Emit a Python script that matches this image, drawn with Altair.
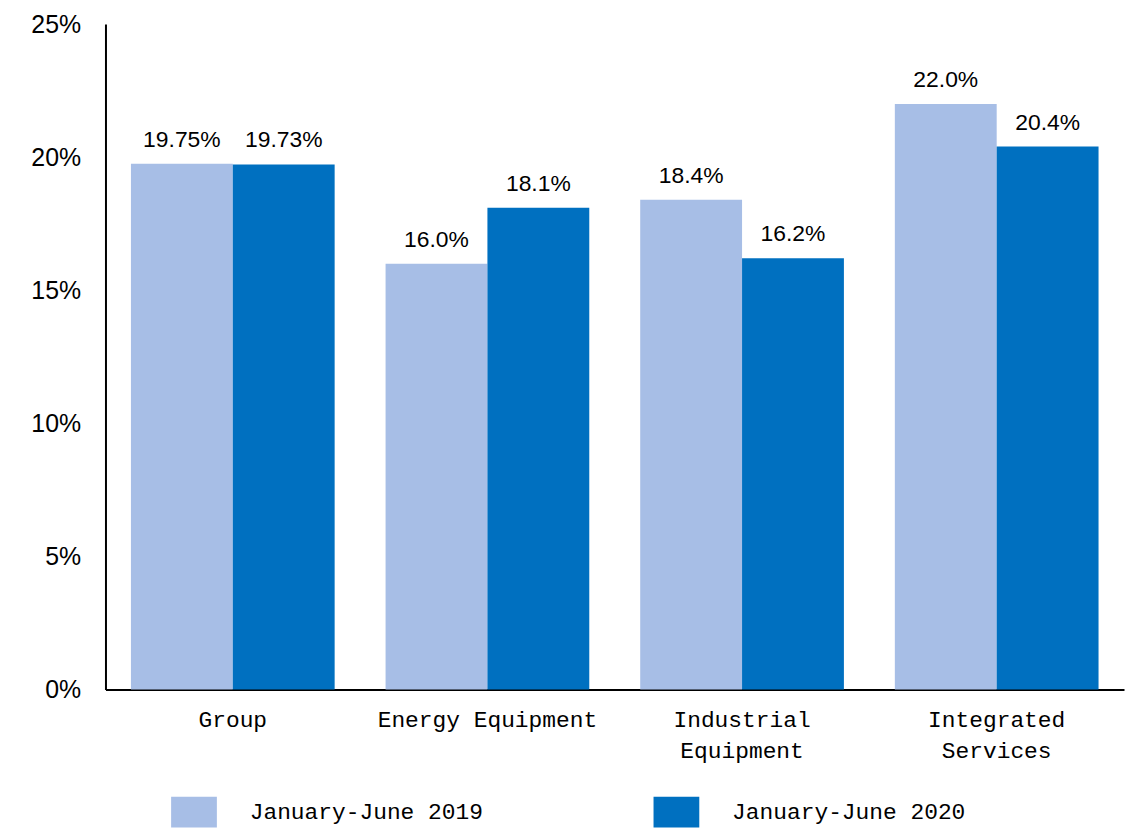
import altair as alt
import pandas as pd

categories = ["Group", "Energy Equipment", "Industrial Equipment", "Integrated Services"]
periods = ["January-June 2019", "January-June 2020"]
values_2019 = [19.75, 16.0, 18.4, 22.0]
values_2020 = [19.73, 18.1, 16.2, 20.4]
labels_2019 = ["19.75%", "16.0%", "18.4%", "22.0%"]
labels_2020 = ["19.73%", "18.1%", "16.2%", "20.4%"]
y_ticks = [0, 5, 10, 15, 20, 25]
colors = ["#A7BEE6", "#0070C0"]

rows = []
for c, v, l in zip(categories, values_2019, labels_2019):
    rows.append({"category": c, "period": periods[0], "value": v, "label": l})
for c, v, l in zip(categories, values_2020, labels_2020):
    rows.append({"category": c, "period": periods[1], "value": v, "label": l})
df = pd.DataFrame(rows)

label_expr = ("datum.value == 'Industrial Equipment' ? ['Industrial', 'Equipment'] : "
              "datum.value == 'Integrated Services' ? ['Integrated', 'Services'] : datum.value")

base = alt.Chart(df).encode(
    x=alt.X("category:N", sort=categories, title=None,
            scale=alt.Scale(paddingInner=0.2, paddingOuter=0.1),
            axis=alt.Axis(labelAngle=0, ticks=False, tickSize=0, domainColor="black",
                          domainWidth=2, labelFont="Liberation Mono", labelFontSize=23,
                          labelColor="black", labelPadding=19, labelLineHeight=31,
                          labelLimit=400, labelExpr=label_expr, labelBaseline="top")),
    xOffset=alt.XOffset("period:N", sort=periods,
                        scale=alt.Scale(paddingInner=0, paddingOuter=0)),
    y=alt.Y("value:Q", title=None, scale=alt.Scale(domain=[0, 25]),
            axis=alt.Axis(values=y_ticks, labelExpr="datum.value + '%'", grid=False,
                          ticks=False, tickSize=0, domainColor="black", domainWidth=2,
                          labelFont="Liberation Sans", labelFontSize=25,
                          labelColor="black", labelPadding=25)),
)

bars = base.mark_bar().encode(
    color=alt.Color("period:N", sort=periods,
                    scale=alt.Scale(domain=periods, range=colors),
                    legend=alt.Legend(title=None, orient="none", legendX=66, legendY=769,
                                      direction="horizontal",
                                      symbolType="M-1,-0.67L1,-0.67L1,0.67L-1,0.67Z",
                                      symbolSize=2116, symbolStrokeWidth=0,
                                      symbolOpacity=1,
                                      labelFont="Liberation Mono", labelFontSize=23,
                                      labelColor="black", labelOffset=33,
                                      columnPadding=171, labelLimit=400))
)

text = base.mark_text(font="Liberation Sans", fontSize=23, color="black",
                      baseline="alphabetic", dy=-17).encode(text="label:N")

chart = alt.layer(bars, text).properties(
    width=1024, height=669,
    autosize=alt.AutoSizeParams(type="none"),
    padding={"left": 98, "top": 14, "right": 1, "bottom": 137},
).configure_view(stroke=None)

chart.save("out.html", embed_options={"renderer": "svg", "actions": False})
